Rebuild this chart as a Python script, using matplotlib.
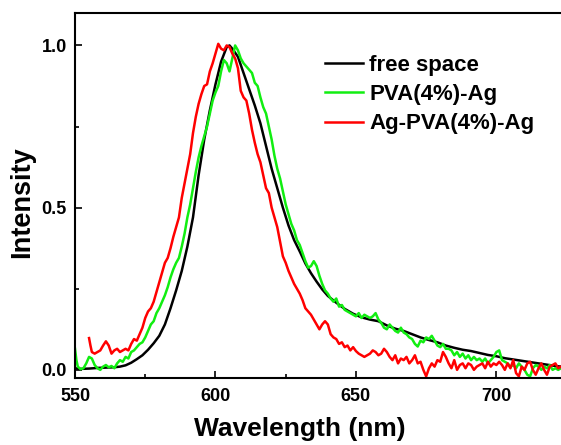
import matplotlib
matplotlib.use("Agg")
import matplotlib.pyplot as plt
from matplotlib.ticker import MultipleLocator

plt.rcParams['font.family'] = ['Liberation Sans', 'DejaVu Sans']
plt.rcParams['font.weight'] = 'bold'

labels = ["free space", "PVA(4%)-Ag", "Ag-PVA(4%)-Ag"]
colors = ["#000000", "#11ee11", "#ff0000"]

free_x = [550, 552, 555, 558, 561, 564, 566, 568, 570, 572, 574, 576, 578, 580, 582, 584, 586, 588,
          590, 592, 594, 596, 598, 600, 602, 604, 605, 606, 608, 610, 612, 614, 616, 618, 620, 622,
          624, 626, 628, 630, 632, 634, 636, 638, 640, 643, 646, 649, 652, 655, 658, 661, 664, 667,
          670, 673, 676, 679, 682, 685, 688, 691, 694, 697, 700, 703, 706, 709, 712, 715, 718, 721, 723]
free_y = [0.005, 0.003, 0.004, 0.006, 0.007, 0.008, 0.010, 0.014, 0.022, 0.033, 0.045, 0.062, 0.082,
          0.105, 0.140, 0.190, 0.245, 0.305, 0.380, 0.470, 0.600, 0.710, 0.800, 0.880, 0.950, 0.995,
          1.000, 0.990, 0.965, 0.915, 0.865, 0.815, 0.760, 0.690, 0.620, 0.560, 0.500, 0.445, 0.400,
          0.365, 0.328, 0.298, 0.272, 0.248, 0.228, 0.207, 0.188, 0.173, 0.162, 0.155, 0.150, 0.137,
          0.127, 0.120, 0.110, 0.100, 0.092, 0.085, 0.075, 0.068, 0.062, 0.058, 0.052, 0.046, 0.042,
          0.036, 0.032, 0.028, 0.024, 0.020, 0.016, 0.012, 0.010]

pva_x = [550, 550.5, 551, 552, 553, 554, 555, 556, 557, 558, 559, 560, 561, 562, 563, 564, 565, 566,
         567, 568, 569, 570, 571, 572, 573, 574, 575, 576, 577, 578, 579, 580, 581, 582, 583, 584,
         585, 586, 587, 588, 589, 590, 591, 592, 593, 594, 595, 596, 597, 598, 599, 600, 601, 602,
         603, 604, 605, 606, 607, 608, 609, 610, 611, 612, 613, 614, 615, 616, 617, 618, 619, 620,
         621, 622, 623, 624, 625, 626, 627, 628, 629, 630, 631, 632, 633, 634, 635, 636, 637, 638,
         639, 640, 641, 642, 643, 644, 645, 646, 647, 648, 649, 650, 651, 652, 653, 654, 655, 656,
         657, 658, 659, 660, 661, 662, 663, 664, 665, 666, 667, 668, 669, 670, 671, 672, 673, 674,
         675, 676, 677, 678, 679, 680, 681, 682, 683, 684, 685, 686, 687, 688, 689, 690, 691, 692,
         693, 694, 695, 696, 697, 698, 699, 700, 701, 702, 703, 704, 705, 706, 707, 708, 709, 710,
         711, 712, 713, 714, 715, 716, 717, 718, 719, 720, 721, 722, 723]
pva_y = [0.065, 0.03, 0.01, 0.002, 0.005, 0.02, 0.04, 0.035, 0.015, 0.005, 0.0, 0.01, 0.015, 0.008,
         0.012, 0.005, 0.02, 0.03, 0.025, 0.04, 0.035, 0.055, 0.06, 0.07, 0.08, 0.085, 0.1, 0.12, 0.14,
         0.15, 0.175, 0.19, 0.21, 0.23, 0.255, 0.285, 0.31, 0.33, 0.345, 0.38, 0.42, 0.47, 0.51, 0.56,
         0.61, 0.655, 0.69, 0.72, 0.75, 0.79, 0.83, 0.855, 0.875, 0.92, 0.955, 0.945, 0.92, 0.96, 1.0,
         0.985, 0.96, 0.945, 0.935, 0.925, 0.915, 0.885, 0.875, 0.84, 0.81, 0.79, 0.75, 0.71, 0.66,
         0.62, 0.59, 0.55, 0.51, 0.48, 0.45, 0.43, 0.40, 0.385, 0.36, 0.335, 0.315, 0.32, 0.335, 0.32,
         0.29, 0.265, 0.245, 0.235, 0.22, 0.21, 0.22, 0.195, 0.2, 0.185, 0.18, 0.175, 0.17, 0.165,
         0.175, 0.16, 0.17, 0.165, 0.16, 0.165, 0.175, 0.155, 0.145, 0.13, 0.125, 0.14, 0.13, 0.12,
         0.115, 0.13, 0.115, 0.11, 0.1, 0.095, 0.08, 0.072, 0.09, 0.085, 0.1, 0.095, 0.105, 0.09,
         0.075, 0.07, 0.08, 0.065, 0.065, 0.06, 0.045, 0.055, 0.04, 0.05, 0.035, 0.045, 0.03, 0.04,
         0.03, 0.035, 0.025, 0.035, 0.02, 0.03, 0.04, 0.055, 0.06, 0.03, 0.025, 0.02, 0.01, 0.015,
         0.005, 0.02, 0.01, 0.0, -0.015, -0.02, 0.005, 0.015, 0.01, 0.0, 0.01, 0.005, 0.015, 0.0,
         0.005, 0.0, 0.005]

ag_x = [555, 555.5, 556, 557, 558, 559, 560, 561, 562, 563, 564, 565, 566, 567, 568, 569, 570, 571,
        572, 573, 574, 575, 576, 577, 578, 579, 580, 581, 582, 583, 584, 585, 586, 587, 588, 589,
        590, 591, 592, 593, 594, 595, 596, 597, 598, 599, 600, 601, 602, 603, 604, 605, 606, 607,
        608, 609, 610, 611, 612, 613, 614, 615, 616, 617, 618, 619, 620, 621, 622, 623, 624, 625,
        626, 627, 628, 629, 630, 631, 632, 633, 634, 635, 636, 637, 638, 639, 640, 641, 642, 643,
        644, 645, 646, 647, 648, 649, 650, 651, 652, 653, 654, 655, 656, 657, 658, 659, 660, 661,
        662, 663, 664, 665, 666, 667, 668, 669, 670, 671, 672, 673, 674, 675, 676, 677, 678, 679,
        680, 681, 682, 683, 684, 685, 686, 687, 688, 689, 690, 691, 692, 693, 694, 695, 696, 697,
        698, 699, 700, 701, 702, 703, 704, 705, 706, 707, 708, 709, 710, 711, 712, 713, 714, 715,
        716, 717, 718, 719, 720, 721, 722, 723]
ag_y = [0.098, 0.075, 0.055, 0.05, 0.055, 0.06, 0.075, 0.088, 0.075, 0.05, 0.06, 0.065, 0.055, 0.06,
        0.065, 0.06, 0.08, 0.095, 0.09, 0.11, 0.13, 0.16, 0.18, 0.19, 0.21, 0.24, 0.27, 0.3, 0.33,
        0.345, 0.375, 0.41, 0.44, 0.47, 0.53, 0.575, 0.62, 0.665, 0.73, 0.78, 0.82, 0.85, 0.875,
        0.88, 0.92, 0.945, 0.975, 1.005, 0.99, 0.985, 1.0, 0.995, 0.975, 0.96, 0.93, 0.86, 0.84,
        0.83, 0.79, 0.74, 0.70, 0.665, 0.64, 0.6, 0.56, 0.545, 0.50, 0.47, 0.44, 0.395, 0.35, 0.33,
        0.305, 0.285, 0.265, 0.25, 0.235, 0.215, 0.19, 0.18, 0.17, 0.155, 0.14, 0.125, 0.14, 0.15,
        0.14, 0.11, 0.1, 0.095, 0.08, 0.085, 0.07, 0.075, 0.06, 0.07, 0.058, 0.05, 0.045, 0.04,
        0.045, 0.05, 0.06, 0.055, 0.045, 0.05, 0.065, 0.055, 0.04, 0.03, 0.045, 0.02, 0.035, 0.03,
        0.04, 0.02, 0.03, 0.045, 0.02, 0.025, 0.0, -0.02, 0.005, 0.02, 0.01, 0.03, 0.025, 0.055,
        0.04, 0.02, 0.005, 0.03, 0.0, 0.015, 0.02, 0.005, 0.02, 0.015, 0.0, 0.01, 0.015, 0.02,
        0.005, 0.025, 0.01, 0.02, 0.015, 0.025, 0.015, 0.0, 0.02, 0.005, 0.03, -0.01, -0.02, 0.01,
        0.0, 0.02, 0.025, 0.0, -0.015, 0.005, 0.02, 0.0, -0.015, 0.01, 0.015, 0.02, 0.005, 0.01]

x_ticks = [550, 600, 650, 700]
y_ticks = [0.0, 0.5, 1.0]

fig = plt.figure(figsize=(5.61, 4.45), dpi=100)
ax = fig.add_axes([0.1337, 0.1506, 0.8663, 0.8202])

series = [(free_x, free_y), (pva_x, pva_y), (ag_x, ag_y)]
for (xs, ys), lab, c in zip(series, labels, colors):
    ax.plot(xs, ys, color=c, lw=1.8, label=lab)

ax.set_xlim(550, 723)
ax.set_ylim(-0.025, 1.1)
ax.set_xticks(x_ticks)
ax.set_yticks(y_ticks)
ax.set_yticklabels([f"{v:.1f}" for v in y_ticks])
ax.xaxis.set_minor_locator(MultipleLocator(25))
ax.yaxis.set_minor_locator(MultipleLocator(0.25))
ax.tick_params(which='both', direction='in', labelsize=13, width=1.2, top=False, right=False)
ax.tick_params(axis='x', which='major', length=5, pad=7)
ax.tick_params(axis='y', which='major', length=5, pad=6)
ax.tick_params(which='minor', length=3)
for lab in ax.get_xticklabels() + ax.get_yticklabels():
    lab.set_fontweight('bold')
for s in ax.spines.values():
    s.set_linewidth(1.5)
ax.spines['right'].set_visible(False)

ax.set_xlabel("Wavelength (nm)", fontsize=19, fontweight='bold')
ax.xaxis.set_label_coords(0.463, -0.108)
ax.set_ylabel("Intensity", fontsize=19.5, fontweight='bold')
ax.yaxis.set_label_coords(-0.082, 0.482)

leg = ax.legend(loc='upper left', bbox_to_anchor=(0.514, 0.886), frameon=False,
                prop={'size': 16, 'weight': 'bold'}, handlelength=1.7,
                handletextpad=0.3, labelspacing=0.38, borderaxespad=0, borderpad=0)

fig.savefig("out.png", dpi=100)
